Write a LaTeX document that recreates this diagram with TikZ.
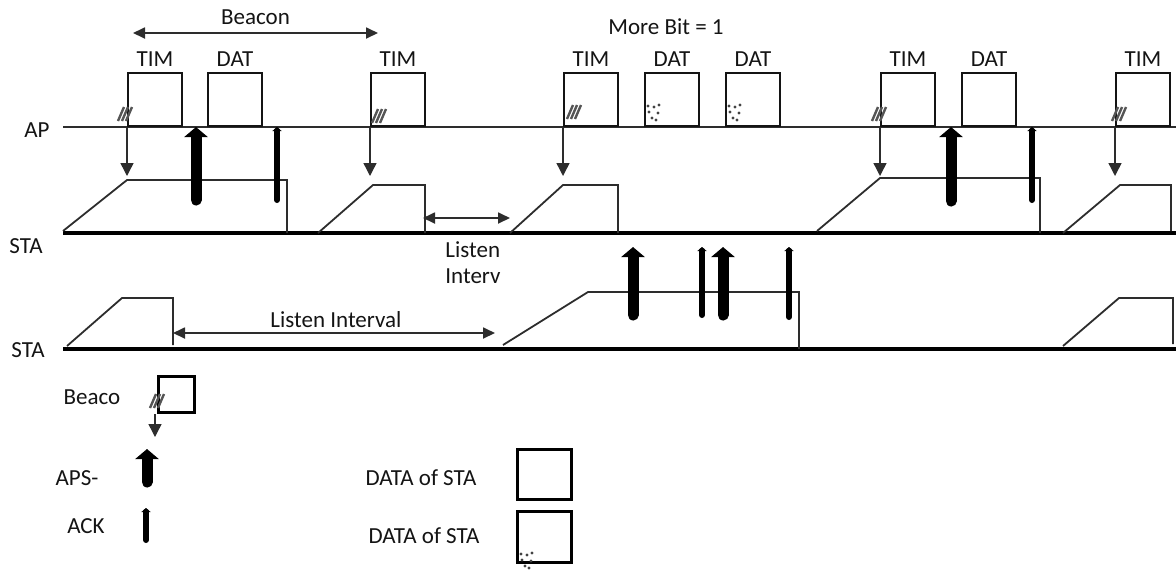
\documentclass[tikz,border=0pt]{standalone}
\usepackage{fontspec}
\setmainfont{Carlito}
\usetikzlibrary{arrows.meta,positioning}
\definecolor{psInk}{RGB}{20,20,20}
\definecolor{psLine}{RGB}{45,45,45}
\definecolor{psHatch}{RGB}{85,85,85}

% small marks that sit in the frames
\newcommand{\timhatch}[2]{%
  \foreach \i in {0,1,2}
    \draw[hatchln] (#1-8+4*\i,#2+7) -- (#1-2+4*\i,#2-7);}
\newcommand{\datdots}[2]{%
  \foreach \dx/\dy in {0/0,5/-5,9/1,3/6,10/-7,7/8,-1/-6}
    \fill[psInk!80] (#1+\dx,#2+\dy) circle (0.85pt);}

\begin{document}
\begin{tikzpicture}[x=0.5pt, y=-0.5pt,
    every node/.style={font=\fontsize{11.5}{13}\selectfont, text=psInk},
    frm/.style={rectangle, draw=psInk, line width=1pt, minimum width=27pt,
      minimum height=26.5pt, inner sep=0pt, anchor=south west},
    legfrm/.style={rectangle, draw=black, line width=1.6pt, inner sep=0pt,
      anchor=north west},
    lbl/.style={inner sep=0pt},
    timeln/.style={draw=black, line width=1.6pt},
    apln/.style={draw=psLine, line width=1.2pt},
    wake/.style={draw=psLine, line width=0.9pt, line join=miter},
    bcnarr/.style={draw=psLine, line width=0.7pt,
      -{Triangle[length=6.5pt,width=6.5pt]}},
    psarr/.style={draw=black, line width=5.5pt, line cap=round,
      -{Triangle[length=5pt,width=11.5pt]}},
    ackarr/.style={draw=black, line width=3pt, line cap=round,
      -{Triangle[length=2pt,width=4.5pt]}},
    spanarr/.style={draw=psLine, line width=0.9pt,
      {Triangle[length=6pt,width=5.5pt]}-{Triangle[length=6pt,width=5.5pt]}},
    hatchln/.style={draw=psHatch, line width=1.2pt},
  ]
  \useasboundingbox (0,0) rectangle (1176,569);

  % ---- levels ----
  \coordinate (ap) at (0,127);
  \coordinate (wk) at (0,176);
  \coordinate (sta2top) at (0,247);

  \node[lbl] (apl) at (37,130) {AP};
  \node[lbl] (sta1l) at (26,246) {STA};
  \node[lbl] (sta2l) at (28,350) {STA};

  \draw[apln] (63,127) -- (1176,127);
  \draw[timeln] (63,233) -- (1176,233);
  \draw[timeln] (63,349) -- (1176,349);

  % ---- AP frames ----
  \node[frm] (tim1) at (127,127) {};
  \node[frm] (dat1) at (207,127) {};
  \node[frm] (tim2) at (370,127) {};
  \node[frm] (tim3) at (563,127) {};
  \node[frm] (dat2) at (644,127) {};
  \node[frm] (dat3) at (725,127) {};
  \node[frm] (tim4) at (880,127) {};
  \node[frm] (dat4) at (961,127) {};
  \node[frm] (tim5) at (1115,127) {};

  \node[lbl, above=2.5pt of tim1] (tim1l) {TIM};
  \node[lbl, above=2.5pt of dat1] (dat1l) {DAT};
  \node[lbl, above=2.5pt of tim2] (tim2l) {TIM};
  \node[lbl, above=2.5pt of tim3] (tim3l) {TIM};
  \node[lbl, above=2.5pt of dat2] (dat2l) {DAT};
  \node[lbl, above=2.5pt of dat3] (dat3l) {DAT};
  \node[lbl, above=2.5pt of tim4] (tim4l) {TIM};
  \node[lbl, above=2.5pt of dat4] (dat4l) {DAT};
  \node[lbl, above=2.5pt of tim5] (tim5l) {TIM};

  \timhatch{126}{114}
  \timhatch{380}{116}
  \timhatch{575}{112}
  \timhatch{880}{114}
  \timhatch{1120}{114}
  \datdots{649}{112}
  \datdots{730}{112}

  \coordinate (bcnL) at (133,33);
  \coordinate (bcnR) at (378,33);
  \draw[spanarr] (bcnL) -- node[lbl, above=3.5pt] (bcnl) {Beacon} (bcnR);
  \node[lbl] (morebit) at (666,27) {More Bit = 1};

  % ---- first STA: wakes at every TIM ----
  \draw[wake] (63,231) -- (127,180) -- (287,180) -- (287,233);
  \draw[wake] (318,233) -- (373,185) -- (425,185) -- (425,233);
  \draw[wake] (510,233) -- (563,185) -- (618,185) -- (618,233);
  \draw[wake] (817,231) -- (880,178) -- (1040,178) -- (1040,233);
  \draw[wake] (1063,233) -- (1120,185) -- (1171,185) -- (1171,231);

  \draw[bcnarr] (tim1.south west) -- (tim1.south west |- wk);
  \draw[bcnarr] (tim2.south west) -- (tim2.south west |- wk);
  \draw[bcnarr] (tim3.south west) -- (tim3.south west |- wk);
  \draw[bcnarr] (tim4.south west) -- (tim4.south west |- wk);
  \draw[bcnarr] (tim5.south west) -- (tim5.south west |- wk);

  \coordinate (ps1) at (196,200);
  \coordinate (ack1) at (277,200);
  \coordinate (ps2) at (951,201);
  \coordinate (ack2) at (1032,200);
  \draw[psarr] (ps1) -- (ps1 |- ap);
  \draw[ackarr] (ack1) -- (ack1 |- ap);
  \draw[psarr] (ps2) -- (ps2 |- ap);
  \draw[ackarr] (ack2) -- (ack2 |- ap);

  \coordinate (liL) at (423,218);
  \coordinate (liR) at (510,218);
  \draw[spanarr] (liL) -- (liR);
  \node[lbl, align=left, anchor=north west] (lil) at (445,241) {Listen\\Interv};

  % ---- second STA: longer listen interval ----
  \draw[wake] (67,346) -- (122,298) -- (173,298) -- (173,345);
  \draw[wake] (503,345) -- (588,292) -- (799,292) -- (799,349);
  \draw[wake] (1063,346) -- (1119,298) -- (1173,298) -- (1173,344);

  \coordinate (liiL) at (173,333);
  \coordinate (liiR) at (495,333);
  \draw[spanarr] (liiL) -- (liiR);
  \node[lbl] (liil) at (336,320) {Listen Interval};

  \coordinate (ps3) at (633,315);
  \coordinate (ack3) at (702,315);
  \coordinate (ps4) at (723,315);
  \coordinate (ack4) at (789,317);
  \draw[psarr] (ps3) -- (ps3 |- sta2top);
  \draw[ackarr] (ack3) -- (ack3 |- sta2top);
  \draw[psarr] (ps4) -- (ps4 |- sta2top);
  \draw[ackarr] (ack4) -- (ack4 |- sta2top);

  % ---- legend ----
  \node[lbl] (legbcn) at (92,397) {Beaco};
  \node[legfrm, minimum width=18pt, minimum height=18pt] (legbox) at (157,375) {};
  \timhatch{158}{401}
  \coordinate (legbcnend) at (155,437);
  \draw[bcnarr] (legbcnend |- legbox.south) -- (legbcnend);

  \node[lbl] (legps) at (77,478) {APS-};
  \coordinate (legpsA) at (147,482);
  \draw[psarr] (legpsA) -- ++(0,-33);
  \node[lbl] (legack) at (86,526) {ACK};
  \coordinate (legackA) at (146,540);
  \draw[ackarr] (legackA) -- ++(0,-32);

  \node[lbl] (legdat1) at (421,478) {DATA of STA};
  \node[legfrm, minimum width=27pt, minimum height=25pt] (legbox1) at (516,448) {};
  \node[lbl] (legdat2) at (424,536) {DATA of STA};
  \node[legfrm, minimum width=27pt, minimum height=25.5pt] (legbox2) at (516,510) {};
  \datdots{522}{560}
\end{tikzpicture}
\end{document}
